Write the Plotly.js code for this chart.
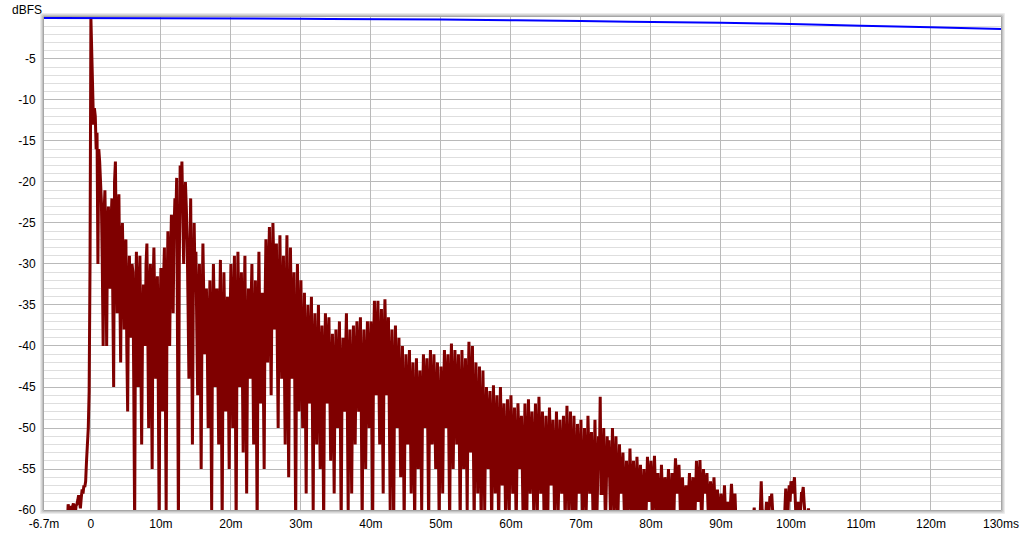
<!DOCTYPE html>
<html>
<head>
<meta charset="utf-8">
<script src="https://cdn.plot.ly/plotly-3.0.1.min.js"></script>
<style>
html,body{margin:0;padding:0;background:#fff;}
#chart{width:1024px;height:534px;}
</style>
</head>
<body>
<div id="chart"></div>
<script>
// ---- Impulse response (dBFS), sampled every 0.125 ms starting at -4 ms (one row per ms) ----
const irStartMs = -4;
const irStepMs = 0.125;
const irDb = [
  -65,-65,-65,-65,-65,-62,-59.3,-60,          // -4
  -59.5,-60.5,-62,-59.6,-59.2,-60,-60.8,-59.5, // -3
  -59.3,-58.8,-58.2,-59,-59.8,-58.5,-57.5,-58, // -2
  -57,-57.2,-56.5,-54,-52.5,-50,-45.5,-30,     // -1
  0,-4,-9.2,-13,-11,-12,-16,-14,               // 0
  -30,-16,-17.5,-21,-22.5,-30,-40,-24,         // 1
  -21,-28,-40,-26,-23,-30,-33,-25,             // 2
  -22,-34,-45,-20,-17.5,-28,-36,-24,           // 3
  -21.5,-33,-42,-27,-25,-31,-38,-28,           // 4
  -27,-40,-48,-33,-29,-37,-39,-30,             // 5
  -31,-45,-62,-35,-28.5,-38,-45,-33,           // 6
  -29,-41,-52,-38,-32.5,-36,-40,-30,           // 7
  -27.5,-38,-50,-34,-30,-42,-55,-33,           // 8
  -28,-36,-44,-35,-31.5,-45,-62,-36,           // 9
  -30.5,-40,-48,-32,-28,-44,-60,-34,           // 10
  -26,-33,-40,-30,-24,-29,-36,-26,             // 11
  -22,-25,-19.5,-40,-62,-30,-18,-21,           // 12
  -17.5,-24,-30,-24,-20,-23,-27,-35,           // 13
  -44,-30,-22,-36,-52,-34,-25,-32,             // 14
  -28.5,-38,-46,-35,-30,-42,-55,-36,           // 15
  -27.5,-34,-41,-37,-33,-40,-50,-38,           // 16
  -32,-45,-60,-38,-30,-36,-45,-35,             // 17
  -33,-42,-52,-37,-29.5,-44,-62,-40,           // 18
  -31,-38,-48,-40,-34,-43,-55,-38,             // 19
  -30,-40,-50,-36,-29,-45,-62,-38,             // 20
  -28.5,-36,-45,-38,-31,-42,-53,-36,           // 21
  -29,-44,-58,-40,-33,-38,-44,-35,             // 22
  -30,-41,-52,-39,-32,-46,-62,-37,             // 23
  -28.5,-38,-47,-40,-33.5,-44,-55,-35,         // 24
  -27,-34,-42,-31,-25.5,-36,-46,-32,           // 25
  -25,-30,-38,-33,-27.5,-40,-50,-34,           // 26
  -26.5,-36,-44,-35,-29,-41,-52,-36,           // 27
  -26.5,-42,-56,-37,-28,-36,-44,-38,           // 28
  -31,-45,-62,-40,-30,-38,-48,-39,             // 29
  -32,-42,-50,-41,-33.5,-45,-58,-40,           // 30
  -35,-40,-47,-42,-34,-46,-60,-41,             // 31
  -36,-44,-52,-43,-35,-44,-55,-42,             // 32
  -37.5,-48,-62,-42,-36,-41,-47,-40,           // 33
  -36.5,-45,-54,-44,-38.5,-47,-58,-43,         // 34
  -38,-44,-50,-43,-37,-48,-62,-44,             // 35
  -39,-43,-48,-41,-36,-47,-60,-43,             // 36
  -38,-47,-58,-44,-37.5,-45,-52,-42,           // 37
  -37,-43,-48,-41,-36.5,-48,-62,-44,           // 38
  -38,-46,-55,-43,-37,-44,-50,-41,             // 39
  -37,-48,-62,-40,-34.5,-40,-46,-39,           // 40
  -34.5,-43,-52,-41,-35.5,-46,-58,-40,         // 41
  -34.3,-40,-46,-41,-36.5,-48,-60,-43,         // 42
  -38,-49,-62,-44,-37.5,-44,-50,-45,           // 43
  -39,-47,-56,-46,-40,-50,-62,-47,             // 44
  -41,-46,-52,-47,-40.5,-48,-58,-47,           // 45
  -42,-51,-62,-48,-41.5,-48,-55,-47,           // 46
  -43,-50,-60,-47,-41,-45,-50,-46,             // 47
  -41.5,-51,-62,-46,-40.5,-46,-52,-47,         // 48
  -41,-48,-55,-47,-42,-51,-62,-48,             // 49
  -42.5,-50,-58,-46,-40.5,-45,-50,-45,         // 50
  -41,-51,-62,-45,-39.7,-47,-55,-46,           // 51
  -40.5,-46,-52,-46,-41,-51,-62,-47,           // 52
  -40.5,-47,-55,-47,-41.5,-50,-60,-46,         // 53
  -39.5,-46,-53,-45,-40,-51,-62,-48,           // 54
  -42,-50,-58,-49,-42.5,-52,-62,-50,           // 55
  -43,-51,-60,-50,-45,-50,-55,-49,             // 56
  -45.5,-53,-62,-51,-44.8,-51,-58,-51,         // 57
  -46,-54,-62,-52,-45,-51,-57,-52,             // 58
  -47,-54,-62,-53,-46.5,-53,-60,-52,           // 59
  -46,-52,-58,-53,-47.5,-55,-62,-53,           // 60
  -47,-51,-55,-52,-48.5,-55,-62,-54,           // 61
  -47,-54,-62,-53,-46.5,-52,-58,-53,           // 62
  -48,-54,-60,-54,-47,-54,-62,-52,             // 63
  -46.2,-52,-58,-53,-48,-55,-62,-54,           // 64
  -48.5,-55,-62,-53,-47.5,-52,-57,-54,         // 65
  -49,-55,-62,-55,-48,-54,-60,-55,             // 66
  -49,-54,-58,-54,-48.5,-55,-62,-53,           // 67
  -47.3,-54,-60,-55,-48,-55,-62,-55,           // 68
  -48.5,-55,-62,-56,-49.5,-54,-58,-55,         // 69
  -49,-56,-62,-57,-50,-55,-60,-55,             // 70
  -48.5,-53,-58,-56,-50.5,-56,-62,-56,         // 71
  -49,-56,-62,-57,-51,-55,-46.2,-58,           // 72
  -58,-55,-50,-56,-62,-57,-51,-56,             // 73
  -51.5,-57,-62,-56,-50,-55,-60,-57,           // 74
  -51,-57,-62,-57,-52,-56,-58,-57,             // 75
  -53,-58,-62,-58,-54,-57,-60,-58,             // 76
  -52.5,-57,-62,-58,-54,-58,-62,-58,           // 77
  -53.5,-57,-60,-58,-54.5,-58,-62,-59,         // 78
  -55,-59,-62,-58,-53.5,-56,-59,-57,           // 79
  -54,-58,-62,-57,-53.4,-57,-60,-58,           // 80
  -55.5,-59,-62,-59,-54.5,-58,-62,-59,         // 81
  -56,-58,-60,-58,-55,-59,-62,-59,             // 82
  -55.5,-59,-62,-57,-53.7,-56,-58,-57,         // 83
  -54.5,-58,-62,-59,-56,-59,-62,-59,           // 84
  -57,-59,-60,-58,-55.5,-59,-62,-58,           // 85
  -56,-59,-62,-58,-54,-57,-59,-57,             // 86
  -53.9,-58,-62,-58,-55,-57,-58,-57,           // 87
  -55.5,-59,-62,-59,-56.5,-58,-60,-59,         // 88
  -56,-59,-62,-60,-57.5,-60,-62,-61,           // 89
  -58,-60,-62,-60,-57,-60,-62,-61,             // 90
  -59,-61,-62,-59,-56.8,-59,-62,-60,           // 91
  -58,-61,-62,-62,-62,-62,-62,-62,             // 92
  -62,-62,-62,-62,-62,-62,-62,-62,             // 93
  -62,-62,-62,-62,-62,-61,-59.7,-62,           // 94
  -62,-62,-62,-62,-62,-60,-56.5,-60,           // 95
  -62,-62,-62,-61,-59,-61,-62,-60,             // 96
  -58.3,-59,-58,-60,-62,-62,-62,-62,           // 97
  -62,-62,-62,-62,-62,-62,-62,-62,             // 98
  -62,-60,-57.4,-60,-62,-59,-57,-59,           // 99
  -56.5,-57,-58,-57,-56,-59,-62,-60,           // 100
  -59,-61,-62,-60,-58,-58,-57.2,-59,           // 101
  -62,-62,-62,-61,-59.8,-61,-62,-62            // 102
];

// ---- Smoothed level (blue trace) ----
const levelMs = [-6.7, 10, 30, 50, 70, 90, 100, 110, 120, 130];
const levelDb = [0, -0.02, -0.1, -0.2, -0.38, -0.58, -0.73, -0.94, -1.14, -1.35];

// ---- Axis ticks ----
const xTickVals = [-6.7, 0, 10, 20, 30, 40, 50, 60, 70, 80, 90, 100, 110, 120, 130];
const xTickText = ['-6.7m', '0', '10m', '20m', '30m', '40m', '50m', '60m', '70m', '80m', '90m', '100m', '110m', '120m', '130ms'];
const yTickVals = [-5, -10, -15, -20, -25, -30, -35, -40, -45, -50, -55, -60];
const yTickText = ['-5', '-10', '-15', '-20', '-25', '-30', '-35', '-40', '-45', '-50', '-55', '-60'];

const irMs = irDb.map((_, i) => irStartMs + i * irStepMs);
const yMinorVals = [];
for (let v = -1; v > -60; v--) { if (v % 5 !== 0) yMinorVals.push(v); }

// plot area in pixels
const L = 44, R = 1001, T = 17, B = 510;
const W = 1024, H = 534;
const px = x => (x - L) / (R - L);
const py = y => (B - y) / (B - T);

const frameCols = ['#a6a6a6', '#c2c2c2', '#d8d8d8', '#ebebeb'];
const shapes = [];
frameCols.forEach((c, i) => {
  const o = i + 0.5;
  shapes.push({type: 'line', xref: 'paper', yref: 'paper', x0: px(L - o), x1: px(L - o), y0: py(T - o), y1: py(B + o), line: {color: c, width: 1}});
  shapes.push({type: 'line', xref: 'paper', yref: 'paper', x0: px(R + o), x1: px(R + o), y0: py(T - o), y1: py(B + o), line: {color: c, width: 1}});
  shapes.push({type: 'line', xref: 'paper', yref: 'paper', x0: px(L - o), x1: px(R + o), y0: py(T - o), y1: py(T - o), line: {color: c, width: 1}});
  shapes.push({type: 'line', xref: 'paper', yref: 'paper', x0: px(L - o), x1: px(R + o), y0: py(B + o), y1: py(B + o), line: {color: c, width: 1}});
});

const traces = [
  {
    x: irMs, y: irDb, type: 'scatter', mode: 'lines',
    line: {color: '#7f0000', width: 3},
    hoverinfo: 'skip'
  },
  {
    x: levelMs, y: levelDb, type: 'scatter', mode: 'lines',
    line: {color: '#0000ff', width: 2, shape: 'spline'},
    hoverinfo: 'skip'
  }
];

const font = {family: '"Liberation Sans", Arial, sans-serif', size: 12, color: '#000'};

const layout = {
  width: W, height: H,
  margin: {l: L, r: W - R, t: T, b: H - B, pad: 0},
  paper_bgcolor: '#fff', plot_bgcolor: '#fff',
  showlegend: false,
  font: font,
  xaxis: {
    range: [-6.7, 130],
    tickmode: 'array', tickvals: xTickVals, ticktext: xTickText,
    showgrid: true, gridcolor: '#b9b9b9', gridwidth: 1,
    zeroline: false, showline: false,
    ticks: 'outside', ticklen: 3, tickcolor: 'rgba(0,0,0,0)',
    tickfont: font, fixedrange: true
  },
  yaxis: {
    range: [-60, 0.12],
    tickmode: 'array', tickvals: yTickVals, ticktext: yTickText,
    showgrid: true, gridcolor: '#b9b9b9', gridwidth: 1,
    minor: {tickmode: 'array', tickvals: yMinorVals, showgrid: true, gridcolor: '#dedede', gridwidth: 1, ticks: ''},
    zeroline: false, showline: false,
    ticks: 'outside', ticklen: 5, tickcolor: 'rgba(0,0,0,0)',
    tickfont: font, fixedrange: true
  },
  shapes: shapes,
  annotations: [
    {text: 'dBFS', xref: 'paper', yref: 'paper', x: px(10), y: py(10), xanchor: 'left', yanchor: 'middle', showarrow: false, font: font}
  ]
};

Plotly.newPlot('chart', traces, layout, {staticPlot: true, displayModeBar: false});
</script>
</body>
</html>
